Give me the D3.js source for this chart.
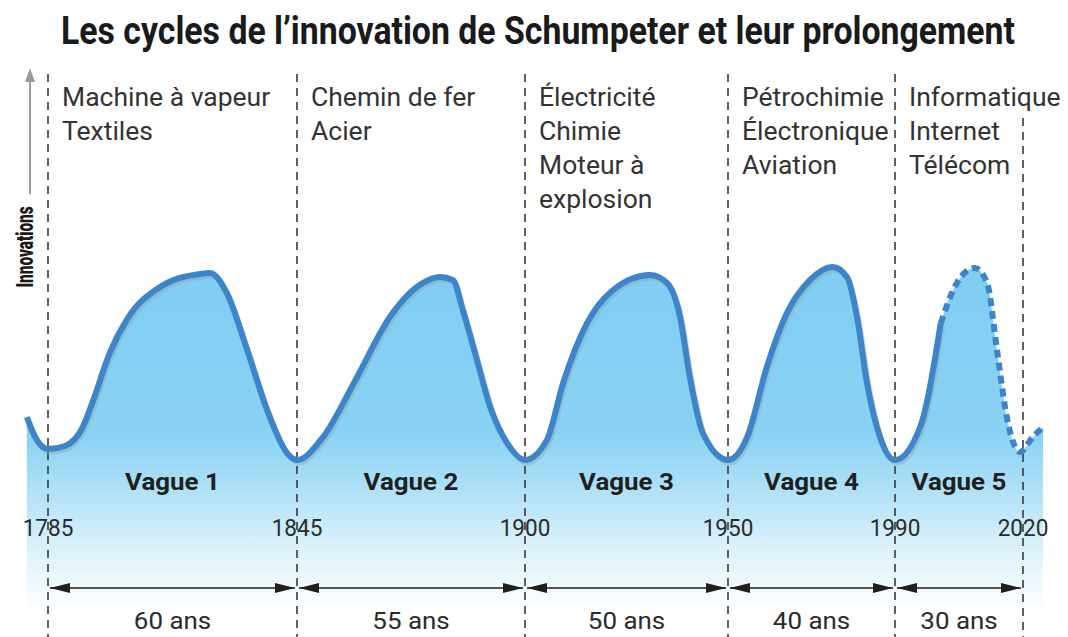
<!DOCTYPE html>
<html><head><meta charset="utf-8">
<script src="https://cdn.jsdelivr.net/npm/d3@7"></script>
<style>
html,body{margin:0;padding:0;background:#fff;}
svg{display:block;}
text{font-family:Roboto,"Liberation Sans",sans-serif;}
</style></head>
<body>
<script>
// ---------- data ----------
const title = "Les cycles de l\u2019innovation de Schumpeter et leur prolongement";
const axisLabel = "Innovations";
const boundaryYears = [1785, 1845, 1900, 1950, 1990, 2020];
const waveNames = ["Vague 1", "Vague 2", "Vague 3", "Vague 4", "Vague 5"];
const durationLabels = ["60 ans", "55 ans", "50 ans", "40 ans", "30 ans"];
const waveTech = [
  ["Machine \u00e0 vapeur", "Textiles"],
  ["Chemin de fer", "Acier"],
  ["\u00c9lectricit\u00e9", "Chimie", "Moteur \u00e0", "explosion"],
  ["P\u00e9trochimie", "\u00c9lectronique", "Aviation"],
  ["Informatique", "Internet", "T\u00e9l\u00e9com"]
];
// observed innovation curve (solid)
const obsYears  = [1779.9,1781.9,1785,1789.1,1793.4,1795.8,1799.9,1804.0,1812.0,1821.6,1824.0,1828.1,1833.0,1837.8,1842.6,1845,
                   1851.3,1859.5,1867.4,1875.4,1879.5,1882.6,1885.0,1888.4,1891.6,1895.7,1900,
                   1905.4,1909.4,1915.3,1921.7,1930.8,1935.0,1938.2,1940.6,1943.8,1950,
                   1954.6,1959.3,1964.1,1969.6,1975.1,1978.5,1980.9,1983.3,1986.4,1990,
                   1995.9,2000.7];
const obsValues = [22,11.8,5.6,7.2,17,30,55,72,88.7,95.4,95.9,85.6,56.4,25.6,3.6,0,
                   11.8,42.6,73.3,90.8,93.8,92.3,76.9,51.3,27.2,8.7,0,
                   10.3,39.5,70.3,87.2,94.9,90.8,73.3,42.6,13.8,0,
                   11.8,47.7,75.4,92.3,99.0,93.8,73.3,39.5,11.8,0,
                   16.9,70];
// projected continuation (dashed)
const projYears  = [2000.7,2004.5,2008.7,2011.6,2013.9,2016.2,2019.3,2022.3,2024.7];
const projValues = [70,90.8,98.5,90.8,56.4,22.1,4.1,11.8,16.9];

// ---------- setup ----------
const W = 1068, H = 637;
const svg = d3.select("body").append("svg").attr("width", W).attr("height", H);
const defs = svg.append("defs");

const x = d3.scaleLinear().domain(boundaryYears).range([48, 297, 525, 728, 895, 1023]);
const y = d3.scaleLinear().domain([0, 100]).range([460, 265]);

const grad = defs.append("linearGradient").attr("id", "fillGrad")
  .attr("gradientUnits", "userSpaceOnUse").attr("x1", 0).attr("x2", 0).attr("y1", 260).attr("y2", 610);
[[0, "#7fcdf2"], [0.5, "#8ad2f3"], [0.62, "#a6ddf6"], [0.8, "#d6effa"], [1, "#ffffff"]]
  .forEach(([o, c]) => grad.append("stop").attr("offset", o).attr("stop-color", c));

const obs = obsYears.map((d, i) => [d, obsValues[i]]);
const proj = projYears.map((d, i) => [d, projValues[i]]);
const all = obs.concat(proj.slice(1));
const curve = d3.curveMonotoneX;

// area fill
svg.append("path").datum(all)
  .attr("d", d3.area().x(d => x(d[0])).y0(610).y1(d => y(d[1])).curve(curve))
  .attr("fill", "url(#fillGrad)");

// condensed text helper
function ctext(parent, px, py, str, o) {
  o = o || {};
  return parent.append("text")
    .attr("transform", `translate(${px},${py}) rotate(${o.rot || 0}) scale(${o.sx || 0.86},1)`)
    .attr("text-anchor", o.anchor || "start")
    .attr("font-size", o.size || 24)
    .attr("font-weight", o.weight || 400)
    .attr("fill", o.fill || "#2b2b2b")
    .text(str);
}

// vertical dashed boundary lines
boundaryYears.forEach((yr, i) => {
  svg.append("line")
    .attr("x1", x(yr)).attr("x2", x(yr))
    .attr("y1", i === boundaryYears.length - 1 ? 118 : 74).attr("y2", H)
    .attr("stroke", "#3a3a3a").attr("stroke-width", 1.6)
    .attr("stroke-dasharray", "8,6");
});

// curve shadow + curve
const line = d3.line().x(d => x(d[0])).y(d => y(d[1])).curve(curve);
svg.append("path").datum(obs).attr("d", line).attr("fill", "none")
  .attr("stroke", "#8fa6b6").attr("stroke-opacity", 0.45).attr("stroke-width", 5)
  .attr("transform", "translate(2,3)");
svg.append("path").datum(obs).attr("d", line).attr("fill", "none")
  .attr("stroke", "#3d85c8").attr("stroke-width", 6).attr("stroke-linecap", "butt");
svg.append("path").datum(proj).attr("d", line).attr("fill", "none")
  .attr("stroke", "#3d85c8").attr("stroke-width", 6).attr("stroke-dasharray", "8,5");

// title
ctext(svg, W / 2 + 4, 44, title, { anchor: "middle", size: 38, weight: 700, sx: 0.89, fill: "#1a1a1a" });

// y axis arrow
defs.append("marker").attr("id", "grayHead").attr("viewBox", "0 0 14 10")
  .attr("refX", 2).attr("refY", 5).attr("markerWidth", 14).attr("markerHeight", 10)
  .attr("markerUnits", "userSpaceOnUse").attr("orient", "auto")
  .append("path").attr("d", "M0,0L14,5L0,10Z").attr("fill", "#9a9a9a");
svg.append("line").attr("x1", 30).attr("x2", 30).attr("y1", 194).attr("y2", 80)
  .attr("stroke", "#9a9a9a").attr("stroke-width", 2).attr("marker-end", "url(#grayHead)");
ctext(svg, 33, 247, axisLabel, { rot: -90, anchor: "middle", size: 24, weight: 900, sx: 0.64, fill: "#1a1a1a" });

// technology labels
waveTech.forEach((lines, i) => {
  lines.forEach((t, j) => {
    ctext(svg, x(boundaryYears[i]) + 14, 106 + j * 34, t, { size: 25, sx: 1.06, fill: "#333" });
  });
});

// wave names
waveNames.forEach((t, i) => {
  const cx = (x(boundaryYears[i]) + x(boundaryYears[i + 1])) / 2;
  ctext(svg, cx, 490, t, { anchor: "middle", size: 24, weight: 700, sx: 1.08, fill: "#1f1f1f" });
});

// year labels
boundaryYears.forEach(yr => {
  ctext(svg, x(yr), 536, String(yr), { anchor: "middle", size: 24, sx: 0.94, fill: "#2b2b2b" });
});

// duration arrows
defs.append("marker").attr("id", "blackHead").attr("viewBox", "0 0 20 10")
  .attr("refX", 20).attr("refY", 5).attr("markerWidth", 20).attr("markerHeight", 10)
  .attr("markerUnits", "userSpaceOnUse").attr("orient", "auto-start-reverse")
  .append("path").attr("d", "M0,0L20,5L0,10Z").attr("fill", "#1f1f1f");
durationLabels.forEach((t, i) => {
  const xa = x(boundaryYears[i]) + 2, xb = x(boundaryYears[i + 1]) - 2;
  svg.append("line").attr("x1", xa).attr("x2", xb).attr("y1", 588).attr("y2", 588)
    .attr("stroke", "#1f1f1f").attr("stroke-width", 1.6)
    .attr("marker-start", "url(#blackHead)").attr("marker-end", "url(#blackHead)");
  ctext(svg, (xa + xb) / 2, 629, t, { anchor: "middle", size: 24, sx: 1.08, fill: "#2b2b2b" });
});
</script>
</body></html>
